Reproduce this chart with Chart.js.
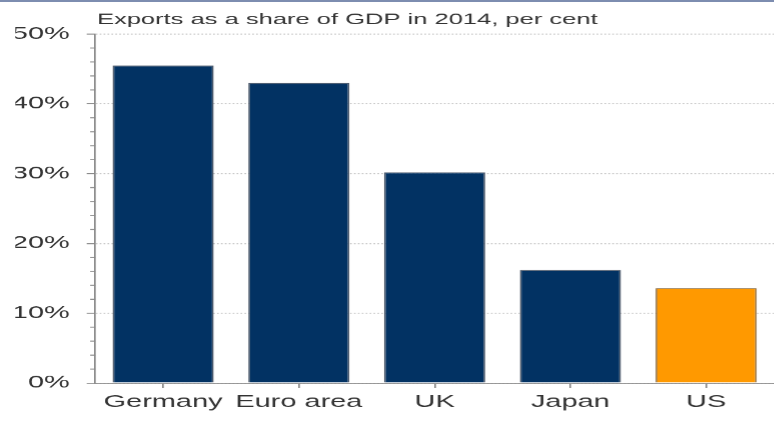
<!DOCTYPE html>
<html>
<head>
<meta charset="utf-8">
<script src="https://cdn.jsdelivr.net/npm/chart.js@4/dist/chart.umd.min.js"></script>
<style>
  html, body { margin: 0; padding: 0; background: #fff; }
  #page { position: relative; width: 774px; height: 424px; overflow: hidden; }
  #topline { position: absolute; left: 0; top: 0; width: 774px; height: 2px; background: #7d8db0; z-index: 2; }
  /* source picture is stretched sideways, so the chart is too */
  #wrap { position: absolute; left: 0; top: 0; width: 455px; height: 424px; transform: scaleX(1.7); transform-origin: 0 0; }
</style>
</head>
<body>
<div id="page">
  <div id="topline"></div>
  <div id="wrap"><canvas id="exportsChart"></canvas></div>
</div>
<script>
const categories = ["Germany", "Euro area", "UK", "Japan", "US"];
const exportShare = [45.5, 43.0, 30.2, 16.2, 13.6];
const barColors = ["#023263", "#023263", "#023263", "#023263", "#ff9900"];
const barEdges = ["#4d5a6c", "#4d5a6c", "#4d5a6c", "#4d5a6c", "#8c6a3c"];
const yTicks = [0, 10, 20, 30, 40, 50];
const titleText = "Exports as a share of GDP in 2014, per cent";

const fontFamily = "'Liberation Sans', Arial, sans-serif";

// title sits over the plot, left aligned with the y axis
const titlePlugin = {
  id: "leftTitle",
  afterDraw(chart) {
    const ctx = chart.ctx;
    ctx.save();
    ctx.font = "15px " + fontFamily;
    ctx.fillStyle = "#333";
    ctx.textBaseline = "alphabetic";
    ctx.fillText(titleText, chart.chartArea.left + 1, 24);
    ctx.restore();
  },
};

// small ticks every 2 per cent on the y axis
const minorTicks = {
  id: "minorTicks",
  afterDraw(chart) {
    const y = chart.scales.y;
    const ctx = chart.ctx;
    const left = chart.chartArea.left;
    ctx.save();
    ctx.strokeStyle = "#888";
    ctx.lineWidth = 1;
    for (let v = 2; v < 50; v += 2) {
      if (v % 10 === 0) continue;
      const py = y.getPixelForValue(v);
      ctx.beginPath();
      ctx.moveTo(left - 3, py);
      ctx.lineTo(left, py);
      ctx.stroke();
    }
    ctx.restore();
  },
};

new Chart(document.getElementById("exportsChart"), {
  type: "bar",
  data: {
    labels: categories,
    datasets: [
      {
        data: exportShare,
        backgroundColor: barColors,
        borderColor: barEdges,
        borderWidth: 1,
        categoryPercentage: 1,
        barPercentage: 0.745,
      },
    ],
  },
  options: {
    responsive: true,
    maintainAspectRatio: false,
    animation: false,
    devicePixelRatio: 1.7,
    layout: {
      autoPadding: false,
      padding: { top: 34, left: 9, right: 0, bottom: 8 },
    },
    plugins: {
      legend: { display: false },
      tooltip: { enabled: false },
    },
    scales: {
      x: {
        grid: {
          drawOnChartArea: false,
          offset: false,
          tickLength: 5,
          tickColor: "#888",
        },
        border: { color: "#888", width: 1 },
        ticks: {
          padding: 4,
          color: "#333",
          autoSkip: false,
          maxRotation: 0,
          minRotation: 0,
          font: { family: fontFamily, size: 17 },
        },
      },
      y: {
        min: 0,
        max: 50,
        afterBuildTicks(scale) {
          scale.ticks = yTicks.map((v) => ({ value: v }));
        },
        afterFit(scale) {
          scale.width = 47;
        },
        grid: {
          color: "#c4c4c4",
          tickColor: "#888",
          tickLength: 5,
        },
        border: { color: "#888", width: 1, dash: [1, 1.3] },
        ticks: {
          padding: 10,
          color: "#333",
          font: { family: fontFamily, size: 17 },
          callback: (v) => v + "%",
        },
      },
    },
  },
  plugins: [titlePlugin, minorTicks],
});
</script>
</body>
</html>
